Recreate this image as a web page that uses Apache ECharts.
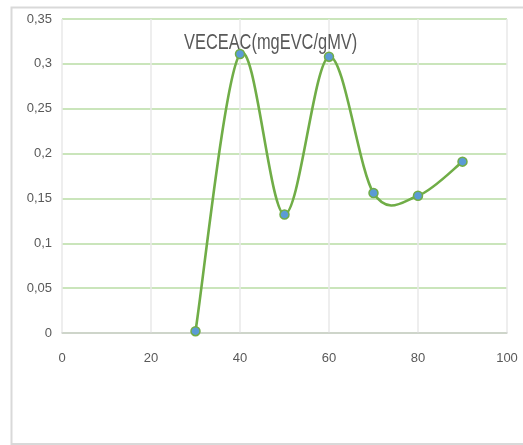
<!DOCTYPE html>
<html>
<head>
<meta charset="utf-8">
<script src="https://cdn.jsdelivr.net/npm/echarts@6/dist/echarts.min.js"></script>
<style>html,body{margin:0;padding:0;background:#fff}#c{width:523px;height:445px}</style>
</head>
<body>
<div id="c"></div>
<script>
const titleText = 'VECEAC(mgEVC/gMV)';
const xValues = [30, 40, 50, 60, 70, 80, 90];
const yValues = [0.002, 0.311, 0.132, 0.308, 0.156, 0.153, 0.191];
const FONT = "'Liberation Sans', Arial, sans-serif";
const LINE_COLOR = '#70ad47';
const points = xValues.map((x, i) => [x, yValues[i]]);

// Excel-style smoothed segment (Catmull-Rom converted to Bezier), computed in pixel space via the axes
function renderSegment(params, api) {
  const i = params.dataIndexInside;
  const n = params.dataInsideLength;
  if (i >= n - 1) return null;
  const P = j => {
    const k = Math.max(0, Math.min(n - 1, j));
    return api.coord([api.value(0, k), api.value(1, k)]);
  };
  const p0 = P(i - 1), p1 = P(i), p2 = P(i + 1), p3 = P(i + 2);
  return {
    type: 'bezierCurve',
    shape: {
      x1: p1[0], y1: p1[1], x2: p2[0], y2: p2[1],
      cpx1: p1[0] + (p2[0] - p0[0]) / 6, cpy1: p1[1] + (p2[1] - p0[1]) / 6,
      cpx2: p2[0] - (p3[0] - p1[0]) / 6, cpy2: p2[1] - (p3[1] - p1[1]) / 6
    },
    style: {fill: null, stroke: LINE_COLOR, lineWidth: 2.6, lineCap: 'round'}
  };
}

const chart = echarts.init(document.getElementById('c'), null, {renderer: 'canvas'});
chart.setOption({
  animation: false,
  backgroundColor: '#fff',
  graphic: [{
    type: 'polyline', silent: true,
    shape: {points: [[540, 7.5], [11.5, 7.5], [11.5, 444], [540, 444]]},
    style: {fill: null, stroke: '#d9d9d9', lineWidth: 2}
  }, {
    type: 'text', silent: true, z: 10,
    x: 184, y: 42.5, scaleX: 173 / 232, scaleY: 1,
    style: {
      text: titleText, x: 0, y: 0,
      font: "22px 'Liberation Sans', Arial, sans-serif",
      fill: '#595959', align: 'left', verticalAlign: 'middle'
    }
  }],
  grid: {left: 62, right: 16, top: 19, bottom: 112, containLabel: false},
  xAxis: {
    type: 'value', min: 0, max: 100, interval: 20,
    axisLine: {show: true, lineStyle: {color: '#d0d0d0', width: 1.5}},
    axisTick: {show: false},
    splitLine: {show: true, lineStyle: {color: '#e8e8e8', width: 1.5}},
    axisLabel: {margin: 18.5, color: '#595959', fontFamily: FONT, fontSize: 13}
  },
  yAxis: {
    type: 'value', min: 0, max: 0.35, interval: 0.05,
    axisLine: {show: false}, axisTick: {show: false},
    splitLine: {show: true, lineStyle: {color: '#b9dda5', width: 1.5}},
    axisLabel: {
      margin: 10, color: '#595959', fontFamily: FONT, fontSize: 13,
      formatter: v => String(+v.toFixed(2)).replace('.', ',')
    }
  },
  series: [{
    type: 'custom',
    data: points,
    encode: {x: 0, y: 1},
    renderItem: renderSegment,
    z: 2
  }, {
    type: 'scatter',
    data: points,
    symbol: 'circle', symbolSize: 9,
    itemStyle: {color: '#5b9bd5', borderColor: LINE_COLOR, borderWidth: 1.5, opacity: 1},
    z: 3
  }]
});
</script>
</body>
</html>
